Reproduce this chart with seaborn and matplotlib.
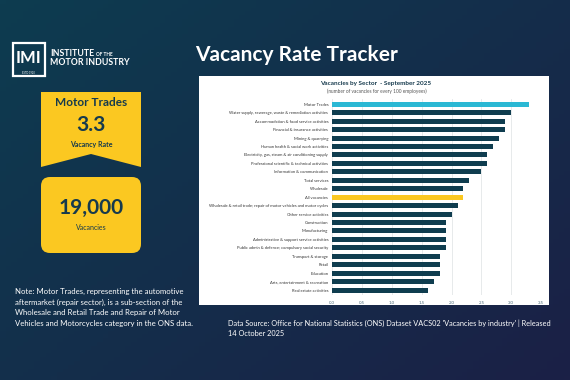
import numpy as np
import pandas as pd
import seaborn as sns
import matplotlib.pyplot as plt
from matplotlib.patches import Rectangle, Polygon, FancyBboxPatch

# data
sectors = [
    "Motor Trades",
    "Water supply, sewerage, waste & remediation activities",
    "Accommodation & food service activities",
    "Financial & insurance activities",
    "Mining & quarrying",
    "Human health & social work activities",
    "Electricity, gas, steam & air conditioning supply",
    "Professional scientific & technical activities",
    "Information & communication",
    "Total services",
    "Wholesale",
    "All vacancies",
    "Wholesale & retail trade; repair of motor vehicles and motor cycles",
    "Other service activities",
    "Construction",
    "Manufacturing",
    "Administrative & support service activities",
    "Public admin & defence; compulsory social security",
    "Transport & storage",
    "Retail",
    "Education",
    "Arts, entertainment & recreation",
    "Real estate activities",
]
rates = [3.3, 3.0, 2.9, 2.9, 2.8, 2.7, 2.6, 2.6, 2.5, 2.3, 2.2, 2.2, 2.1, 2.0,
         1.9, 1.9, 1.9, 1.9, 1.8, 1.8, 1.8, 1.7, 1.6]
x_ticks = [0.0, 0.5, 1.0, 1.5, 2.0, 2.5, 3.0, 3.5]

note_lines = [
    "Note: Motor Trades, representing the automotive",
    "aftermarket (repair sector), is a sub-section of the",
    "Wholesale and Retail Trade and Repair of Motor",
    "Vehicles and Motorcycles category in the ONS data.",
]

navy = "#0f3d4f"
yellow = "#fbc821"
cyan = "#2bb8d4"
textnavy = "#163a4d"

df = pd.DataFrame({"sector": sectors, "rate": rates})
palette = {s: navy for s in sectors}
palette["Motor Trades"] = cyan
palette["All vacancies"] = yellow

plt.rcParams['font.family'] = ['Lato', 'DejaVu Sans']

W, H = 570, 380
fig = plt.figure(figsize=(W / 100, H / 100), dpi=100)

# background canvas in pixel coords
bg = fig.add_axes([0, 0, 1, 1], zorder=0)
bg.set_xlim(0, W)
bg.set_ylim(H, 0)
bg.axis("off")
yy, xx = np.mgrid[0:1:100j, 0:1:100j]
t = (xx * 0.55 + yy * 0.45)
c0 = np.array([13, 60, 80]) / 255
c1 = np.array([27, 32, 70]) / 255
grad = c0[None, None, :] * (1 - t[..., None]) + c1[None, None, :] * t[..., None]
bg.imshow(grad, extent=[0, W, H, 0], aspect="auto", zorder=0)

# white panel
bg.add_patch(Rectangle((199, 76), 350, 229, facecolor="white", edgecolor="none", zorder=1))

# logo
bg.add_patch(Rectangle((12.5, 42.5), 32, 33, facecolor="none", edgecolor="white", lw=1.6, zorder=2))
bg.text(28.5, 58, "IMI", color="white", fontsize=12, fontweight="bold", ha="center", va="center", zorder=3)
bg.text(28.5, 73, "ESTD 1920", color="white", fontsize=1.8, ha="center", va="center", zorder=3)
bg.text(50, 54, "INSTITUTE", color="white", fontsize=6.3, fontweight="bold", ha="left", va="center")
bg.text(96, 54.5, "OF THE", color="white", fontsize=3.4, fontweight="bold", ha="left", va="center")
bg.text(50, 62.5, "MOTOR INDUSTRY", color="white", fontsize=6.3, fontweight="bold", ha="left", va="center")

bg.text(195, 55, "Vacancy Rate Tracker", color="white", fontsize=15, fontweight="bold",
        ha="left", va="center")

# ribbon
bg.add_patch(Polygon([(41, 92), (141, 92), (141, 167), (91, 154), (41, 167)],
                     closed=True, facecolor=yellow, edgecolor="none", zorder=2))
bg.text(91, 103, "Motor Trades", color=textnavy, fontsize=8.5, fontweight="bold", ha="center", va="center", zorder=3)
bg.text(91, 125, "3.3", color=textnavy, fontsize=15, fontweight="bold", ha="center", va="center", zorder=3)
bg.text(91, 144, "Vacancy Rate", color=textnavy, fontsize=5, fontweight="bold", ha="center", va="center", zorder=3)

# vacancies box
bg.add_patch(FancyBboxPatch((47, 183), 88, 64, boxstyle="round,pad=6,rounding_size=9",
                            facecolor=yellow, edgecolor="none", zorder=2))
bg.text(91, 208, "19,000", color=textnavy, fontsize=15, fontweight="bold", ha="center", va="center", zorder=3)
bg.text(91, 228, "Vacancies", color=textnavy, fontsize=5, ha="center", va="center", zorder=3)

for i, line in enumerate(note_lines):
    bg.text(15, 291.7 + i * 10.6, line, color="white", fontsize=5.6, ha="left", va="center")
bg.text(228, 323, "Data Source: Office for National Statistics (ONS) Dataset VACS02 'Vacancies by industry' | Released",
        color="white", fontsize=5.3, ha="left", va="center")
bg.text(228, 334, "14 October 2025", color="white", fontsize=5.3, ha="left", va="center")

bg.text(376, 84, "Vacancies by Sector  - September 2025", color=textnavy, fontsize=4.6, fontweight="bold",
        ha="center", va="center", zorder=3)
bg.text(377, 91.5, "(number of vacancies for every 100 employees)", color="#555555", fontsize=3.4,
        ha="center", va="center", zorder=3)

# bar chart
top, bot = 99.2, 295.1
ax = fig.add_axes([332.3 / W, 1 - bot / H, (541 - 332.3) / W, (bot - top) / H], zorder=2)
ax.patch.set_alpha(0)
sns.barplot(data=df, y="sector", x="rate", hue="sector", palette=palette, legend=False,
            orient="h", width=0.6, saturation=1, ax=ax, zorder=3)
ax.set_xlim(0, 3.5)
ax.set_ylim(22.6, -0.6)
ax.set_xticks(x_ticks)
ax.set_xticklabels([f"{v:.1f}" for v in x_ticks])
ax.xaxis.grid(True, color="#e3e6e8", lw=0.6, zorder=0)
ax.set_axisbelow(True)
for s in ax.spines.values():
    s.set_visible(False)
ax.tick_params(axis="x", length=0, labelsize=3.2, labelcolor="#4a6a7a", pad=4)
ax.tick_params(axis="y", length=0, labelsize=3.0, labelcolor="#333333", pad=3)
ax.set_xlabel("")
ax.set_ylabel("")

fig.savefig("out.png", dpi=100)
